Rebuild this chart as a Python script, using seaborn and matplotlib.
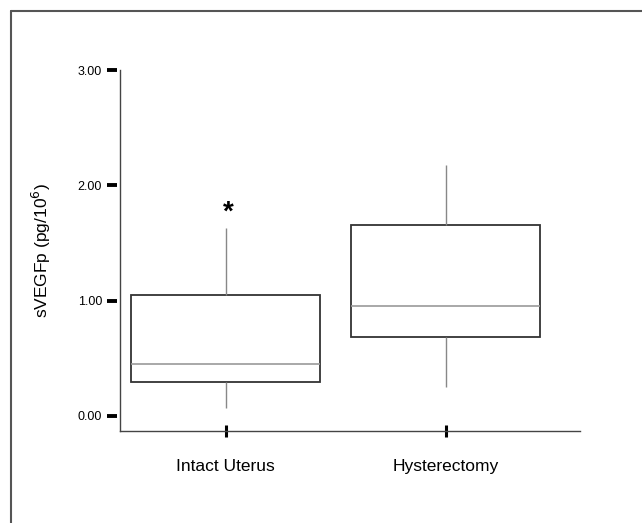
import pandas as pd
import matplotlib.pyplot as plt
import matplotlib.lines as mlines
import matplotlib.transforms as mtransforms
import seaborn as sns

# five-number summaries (min, q1, median, q3, max)
groups = ['Intact Uterus', 'Hysterectomy']
intact = [0.07, 0.29, 0.45, 1.05, 1.63]
hyster = [0.25, 0.68, 0.95, 1.66, 2.18]
yticks = [0.0, 1.0, 2.0, 3.0]
ytick_labels = ['0.00', '1.00', '2.00', '3.00']

df = pd.DataFrame({
    'group': [groups[0]] * len(intact) + [groups[1]] * len(hyster),
    'value': intact + hyster,
})

sns.set_style('white')
plt.rcParams['font.family'] = ['Liberation Sans', 'DejaVu Sans']
plt.rcParams['text.color'] = 'black'
plt.rcParams['axes.labelcolor'] = 'black'

fig = plt.figure(figsize=(6.42, 5.23), dpi=100)
ax = fig.add_axes([0.187, 0.175, 0.716, 0.691])

sns.boxplot(data=df, x='group', y='value', order=groups, ax=ax,
            whis=(0, 100), width=0.86, showcaps=False, showfliers=False,
            color='white', linecolor='#333333', linewidth=1.3,
            whiskerprops={'color': '#888888', 'linewidth': 1.0},
            medianprops={'color': '#999999', 'linewidth': 1.2})

# significance mark above the first group
ax.text(0.01, 1.76, '*', ha='center', va='center', fontsize=20, fontweight='bold')

ax.set_xlim(-0.48, 1.61)
ax.set_ylim(-0.136, 3.0)
ax.set_yticks(yticks)
ax.set_yticklabels(ytick_labels, fontsize=9, color='black')
ax.set_xlabel('')
ax.set_ylabel('sVEGFp (pg/10$^6$)', fontsize=12.5, labelpad=18)
ax.tick_params(axis='x', labelsize=12.5, labelcolor='black', direction='inout',
               length=9, width=2.2, color='black', pad=15, bottom=True)
# y ticks drawn detached from the axis line, as in the original
ax.tick_params(axis='y', left=False, length=0, pad=13)
trans = mtransforms.blended_transform_factory(ax.transAxes, ax.transData)
ax.plot([-0.0174] * len(yticks), yticks, transform=trans, linestyle='none',
        marker='_', markersize=7, markeredgewidth=2.8, color='black', clip_on=False)

for side in ['top', 'right']:
    ax.spines[side].set_visible(False)
for side in ['left', 'bottom']:
    ax.spines[side].set_color('#444444')
    ax.spines[side].set_linewidth(1.0)

# outer frame (top and left edges)
fig.add_artist(mlines.Line2D([11 / 642, 11 / 642], [0, 1 - 11 / 523],
                             transform=fig.transFigure, color='#555555', lw=1.5))
fig.add_artist(mlines.Line2D([11 / 642, 1], [1 - 11 / 523, 1 - 11 / 523],
                             transform=fig.transFigure, color='#555555', lw=1.5))

plt.savefig('out.png', dpi=100)
